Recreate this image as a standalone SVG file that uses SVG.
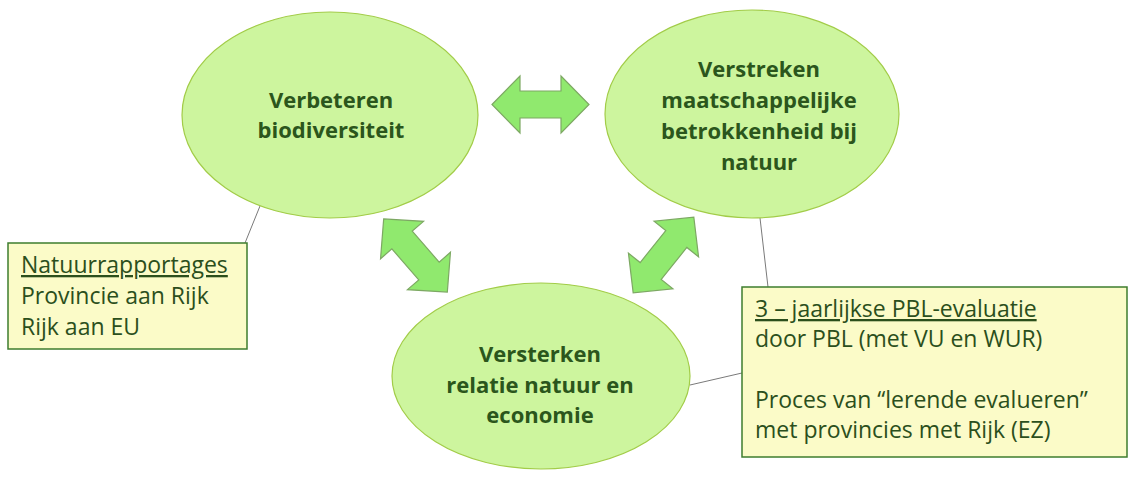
<svg xmlns="http://www.w3.org/2000/svg" width="1130" height="484" viewBox="0 0 1130 484">
<style>
.ell{fill:#CDF59E;stroke:#A2CC48;stroke-width:1.2}
.et{font-family:"Open Sans","Liberation Sans",sans-serif;font-weight:bold;font-size:22px;fill:#2B561C;text-anchor:middle}
.box{fill:#FBFBC8;stroke:#3E7D2E;stroke-width:1.5}
.bt{font-family:"Open Sans","Liberation Sans",sans-serif;font-size:23px;fill:#2B4F1C}
.arr{fill:#90E96E;stroke:#7DA863;stroke-width:1.2}
.con{stroke:#7A7A7A;stroke-width:1;fill:none}
</style>
<defs>
<polygon id="dbl" points="-48.5,0 -20.5,-28.5 -20.5,-13.5 20.5,-13.5 20.5,-28.5 48.5,0 20.5,28.5 20.5,13.5 -20.5,13.5 -20.5,28.5"/>
</defs>
<g id="connectors">
<line class="con" x1="260" y1="206" x2="245" y2="243"/>
<line class="con" x1="760" y1="218" x2="768" y2="287"/>
<line class="con" x1="690" y1="385" x2="742" y2="373"/>
<use href="#dbl" class="arr" transform="translate(540.5,104.5)"/>
<use href="#dbl" class="arr" transform="translate(415.5,255.5) rotate(49)"/>
<use href="#dbl" class="arr" transform="translate(663.5,255) rotate(-51.3)"/>
</g>
<g id="node-biodiversiteit">
<ellipse class="ell" cx="330" cy="115" rx="148" ry="103"/>
<text class="et" x="331" y="108">Verbeteren</text>
<text class="et" x="331" y="138">biodiversiteit</text>
</g>
<g id="node-betrokkenheid">
<ellipse class="ell" cx="752" cy="114" rx="147" ry="104"/>
<text class="et" x="759" y="77">Verstreken</text>
<text class="et" x="759" y="108">maatschappelijke</text>
<text class="et" x="759" y="139">betrokkenheid bij</text>
<text class="et" x="759" y="170">natuur</text>
</g>
<g id="node-economie">
<ellipse class="ell" cx="541" cy="376" rx="149" ry="93"/>
<text class="et" x="540" y="362">Versterken</text>
<text class="et" x="540" y="393">relatie natuur en</text>
<text class="et" x="540" y="423">economie</text>
</g>
<g id="box-natuurrapportages">
<rect class="box" x="8" y="243" width="239" height="106"/>
<text class="bt" x="21" y="273" text-decoration="underline">Natuurrapportages</text>
<text class="bt" x="21" y="304">Provincie aan Rijk</text>
<text class="bt" x="21" y="335">Rijk aan EU</text>
</g>
<g id="box-evaluatie">
<rect class="box" x="742" y="287" width="385" height="170"/>
<text class="bt" x="755" y="317" text-decoration="underline">3 – jaarlijkse PBL-evaluatie</text>
<text class="bt" x="755" y="347">door PBL (met VU en WUR)</text>
<text class="bt" x="755" y="408">Proces van “lerende evalueren”</text>
<text class="bt" x="755" y="438">met provincies met Rijk (EZ)</text>
</g>
</svg>
